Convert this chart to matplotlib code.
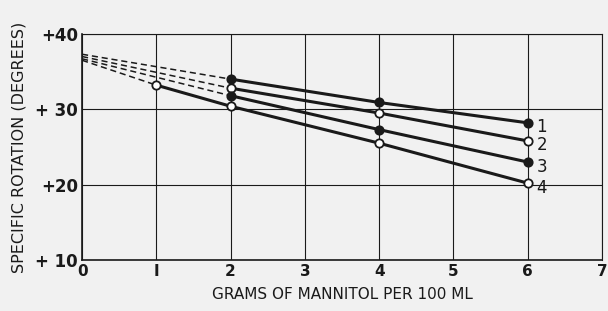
import numpy as np
import matplotlib.pyplot as plt

# grams of mannitol per 100 ml, measured points per curve
x_meas = [
    [2, 4, 6],
    [2, 4, 6],
    [2, 4, 6],
    [1, 2, 4, 6],
]
y_meas = [
    [34.0, 30.9, 28.2],
    [32.8, 29.5, 25.8],
    [31.8, 27.3, 23.0],
    [33.2, 30.4, 25.5, 20.2],
]
# extrapolated values at zero mannitol
y_zero = [37.3, 37.0, 36.7, 36.5]
filled = [True, False, True, False]
curve_labels = ['1', '2', '3', '4']

xticks = [0, 1, 2, 3, 4, 5, 6, 7]
xtick_labels = ['0', 'I', '2', '3', '4', '5', '6', '7']
yticks = [10, 20, 30, 40]
ytick_labels = ['+ 10', '+20', '+ 30', '+40']

bg = '#f1f1f1'
ink = '#1a1a1a'

fig = plt.figure(figsize=(6.08, 3.11), dpi=100, facecolor=bg)
ax = fig.add_axes([0.135, 0.164, 0.855, 0.727], facecolor=bg)

for xs, ys, y0, fill, lab in zip(x_meas, y_meas, y_zero, filled, curve_labels):
    ax.plot([0, xs[0]], [y0, ys[0]], ls=(0, (4, 2.5)), color=ink, lw=1.1, zorder=2)
    ax.plot(xs, ys, color=ink, lw=2.2, zorder=3)
    ax.plot(xs, ys, 'o', ms=6, mec=ink, mew=1.3,
            mfc=ink if fill else 'white', zorder=4)
    ax.text(xs[-1] + 0.12, ys[-1] - 0.6, lab, fontsize=12, color=ink,
            va='center', ha='left')

ax.set_xlim(0, 7)
ax.set_ylim(10, 40)
ax.set_xticks(xticks)
ax.set_xticklabels(xtick_labels, fontsize=11, color=ink, fontweight='bold')
ax.set_yticks(yticks)
ax.set_yticklabels(ytick_labels, fontsize=12, color=ink, fontweight='bold')
ax.tick_params(length=0, pad=3)
ax.grid(True, color=ink, lw=0.8)
for s in ax.spines.values():
    s.set_linewidth(1.2)
    s.set_color(ink)
ax.spines['top'].set_linewidth(0.8)
ax.spines['right'].set_linewidth(0.8)

ax.set_xlabel('GRAMS OF MANNITOL PER 100 ML', fontsize=11, color=ink, labelpad=6)
ax.set_ylabel('SPECIFIC ROTATION (DEGREES)', fontsize=11.5, color=ink, labelpad=6)

fig.savefig('out.png', dpi=100, facecolor=bg)
